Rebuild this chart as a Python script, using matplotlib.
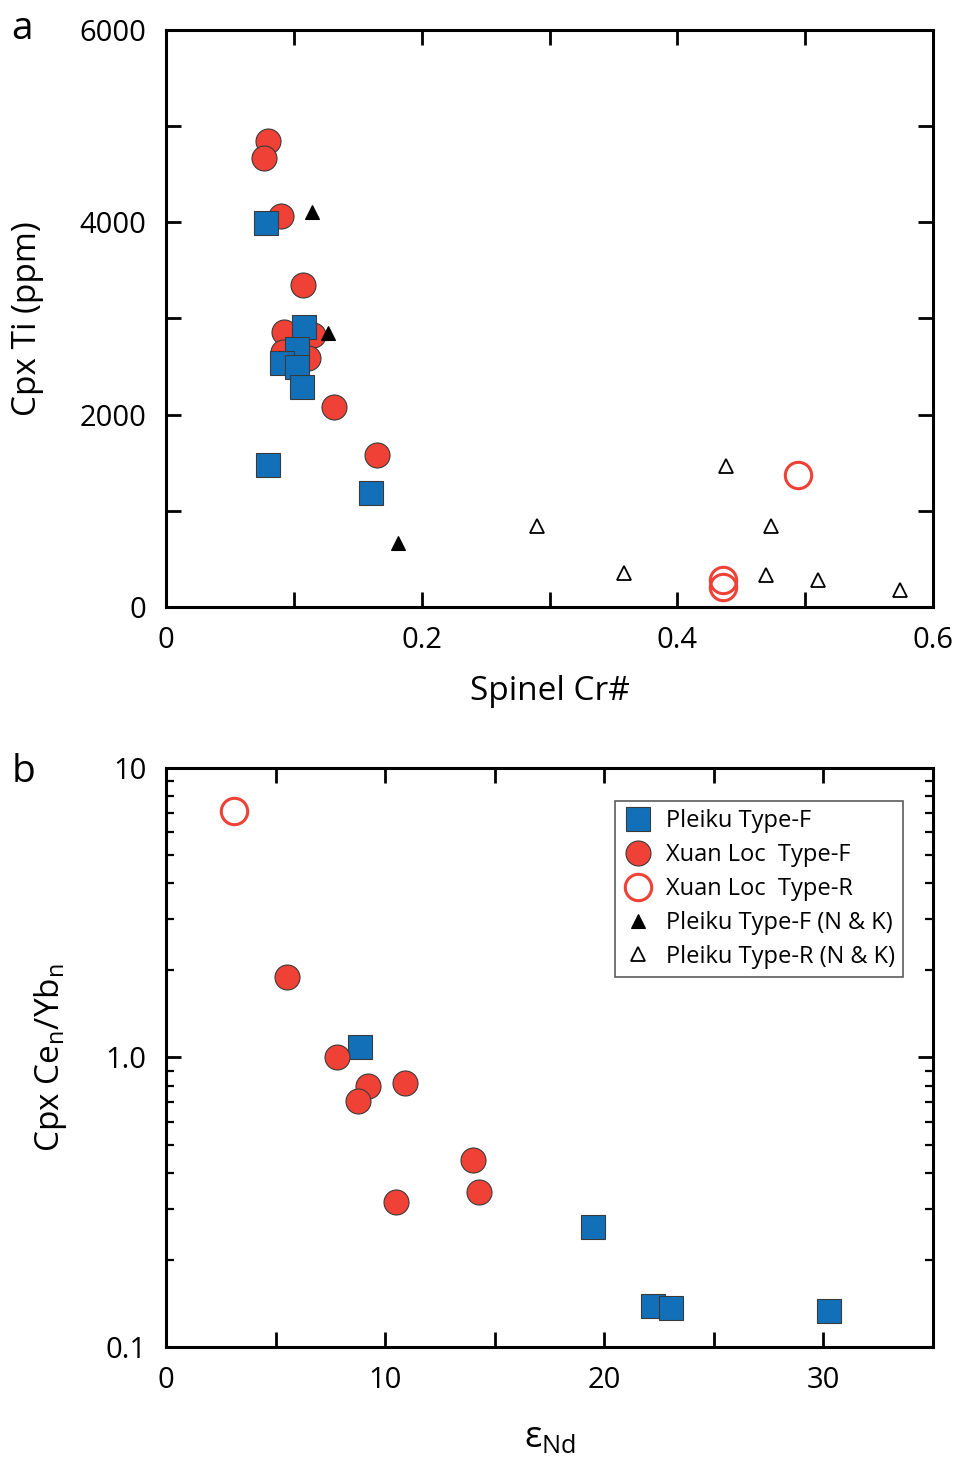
import numpy as np
import matplotlib.pyplot as plt
from matplotlib.lines import Line2D
from matplotlib.ticker import MultipleLocator, FixedLocator, FuncFormatter, LogLocator, NullFormatter

plt.rcParams['font.family'] = ['Open Sans', 'DejaVu Sans']
plt.rcParams['mathtext.fontset'] = 'custom'
plt.rcParams['mathtext.rm'] = 'Open Sans'
plt.rcParams['mathtext.it'] = 'Open Sans'

# --- panel a: spinel Cr# vs cpx Ti (ppm) ---
xl_f_cr = [0.080, 0.077, 0.090, 0.107, 0.092, 0.0915, 0.115, 0.111, 0.131, 0.165]
xl_f_ti = [4846, 4669, 4066, 3348, 2860, 2652, 2828, 2589, 2080, 1580]

pk_f_cr = [0.078, 0.108, 0.1025, 0.091, 0.1025, 0.1064, 0.080, 0.160]
pk_f_ti = [3993, 2912, 2683, 2537, 2496, 2288, 1477, 1185]

nk_f_cr = [0.114, 0.127, 0.1815]
nk_f_ti = [4107, 2849, 665]

nk_r_cr = [0.438, 0.290, 0.473, 0.358, 0.4695, 0.510, 0.574]
nk_r_ti = [1466, 842, 842, 354, 333, 281, 177]

xl_r_cr = [0.4945, 0.436, 0.436]
xl_r_ti = [1373, 281, 208]

# --- panel b: eNd vs cpx Ce_n/Yb_n ---
xl_f_end = [5.5, 7.8, 9.2, 8.75, 10.9, 14.0, 14.3, 10.5]
xl_f_ceyb = [1.89, 1.0, 0.794, 0.710, 0.813, 0.441, 0.344, 0.316]

pk_f_end = [8.85, 19.5, 22.2, 23.05, 30.25]
pk_f_ceyb = [1.083, 0.259, 0.139, 0.136, 0.133]

xl_r_end = [3.1]
xl_r_ceyb = [7.08]

legend_labels = ['Pleiku Type-F', 'Xuan Loc  Type-F', 'Xuan Loc  Type-R',
                 'Pleiku Type-F (N & K)', 'Pleiku Type-R (N & K)']

blue = '#1170b8'
red = '#ef4136'
edge = '#3a3a3a'

sq = dict(marker='s', ms=17, mfc=blue, mec=edge, mew=0.8, ls='none')
ci = dict(marker='o', ms=18, mfc=red, mec=edge, mew=0.8, ls='none')
oc = dict(marker='o', ms=19, mfc='none', mec=red, mew=2.2, ls='none')
tf = dict(marker='^', ms=10, mfc='black', mec='black', mew=0.8, ls='none')
to = dict(marker='^', ms=10, mfc='none', mec='black', mew=1.3, ls='none')


def style_axes(ax):
    for s in ax.spines.values():
        s.set_linewidth(2.2)
    ax.tick_params(which='both', direction='in', top=True, right=True,
                   width=2, labelsize=21, pad=14)
    ax.tick_params(which='major', length=11)


fig = plt.figure(figsize=(9.57, 14.62), dpi=100)
ax1 = fig.add_axes([0.1735, 0.5848, 0.8015, 0.3947])
ax2 = fig.add_axes([0.1735, 0.0787, 0.8015, 0.3960])

ax1.plot(xl_f_cr, xl_f_ti, **ci)
ax1.plot(pk_f_cr, pk_f_ti, **sq)
ax1.plot(nk_f_cr, nk_f_ti, **tf)
ax1.plot(nk_r_cr, nk_r_ti, **to)
ax1.plot(xl_r_cr, xl_r_ti, **oc)
ax1.set_xlim(0, 0.6)
ax1.set_ylim(0, 6000)
ax1.xaxis.set_major_locator(MultipleLocator(0.1))
ax1.xaxis.set_major_formatter(FuncFormatter(
    lambda v, p: ('0' if abs(v) < 1e-9 else f'{v:.1f}') if round(v * 10) % 2 == 0 else ''))
ax1.yaxis.set_major_locator(MultipleLocator(1000))
ax1.yaxis.set_major_formatter(FuncFormatter(
    lambda v, p: f'{int(v)}' if int(round(v)) % 2000 == 0 else ''))
style_axes(ax1)
ax1.set_xlabel('Spinel Cr#', fontsize=24, labelpad=14)
ax1.set_ylabel('Cpx Ti (ppm)', fontsize=24, labelpad=26)
fig.text(0.012, 0.98, 'a', fontsize=28, va='center')

ax2.plot(pk_f_end, pk_f_ceyb, **sq)
ax2.plot(xl_f_end, xl_f_ceyb, **ci)
ax2.plot(xl_r_end, xl_r_ceyb, **oc)
ax2.set_yscale('log')
ax2.set_xlim(0, 35)
ax2.set_ylim(0.1, 10)
ax2.xaxis.set_major_locator(MultipleLocator(5))
ax2.xaxis.set_major_formatter(FuncFormatter(
    lambda v, p: f'{int(v)}' if int(round(v)) % 10 == 0 else ''))
ax2.yaxis.set_major_locator(FixedLocator([0.1, 1.0, 10]))
ax2.yaxis.set_major_formatter(FuncFormatter(
    lambda v, p: {0.1: '0.1', 1.0: '1.0', 10: '10'}.get(round(v, 1), '')))
ax2.yaxis.set_minor_locator(LogLocator(base=10, subs=np.arange(2, 10)))
ax2.yaxis.set_minor_formatter(NullFormatter())
style_axes(ax2)
ax2.tick_params(which='minor', length=6, width=1.6)
ax2.set_xlabel(r'$\epsilon_{\mathrm{Nd}}$', fontsize=26, labelpad=18)
ax2.set_ylabel(r'Cpx Ce$_\mathrm{n}$/Yb$_\mathrm{n}$', fontsize=24, labelpad=26)
fig.text(0.012, 0.472, 'b', fontsize=28, va='center')

handles = [Line2D([], [], **sq), Line2D([], [], **ci), Line2D([], [], **oc),
           Line2D([], [], **tf), Line2D([], [], **to)]
leg = ax2.legend(handles, legend_labels, loc='upper right',
                 bbox_to_anchor=(0.9765, 0.9637), fontsize=17, frameon=True,
                 fancybox=False, edgecolor='#333333', handlelength=1.2,
                 handletextpad=0.6, labelspacing=0.42, borderpad=0.35)
leg.get_frame().set_linewidth(1.2)

fig.savefig('out.png', dpi=100)
